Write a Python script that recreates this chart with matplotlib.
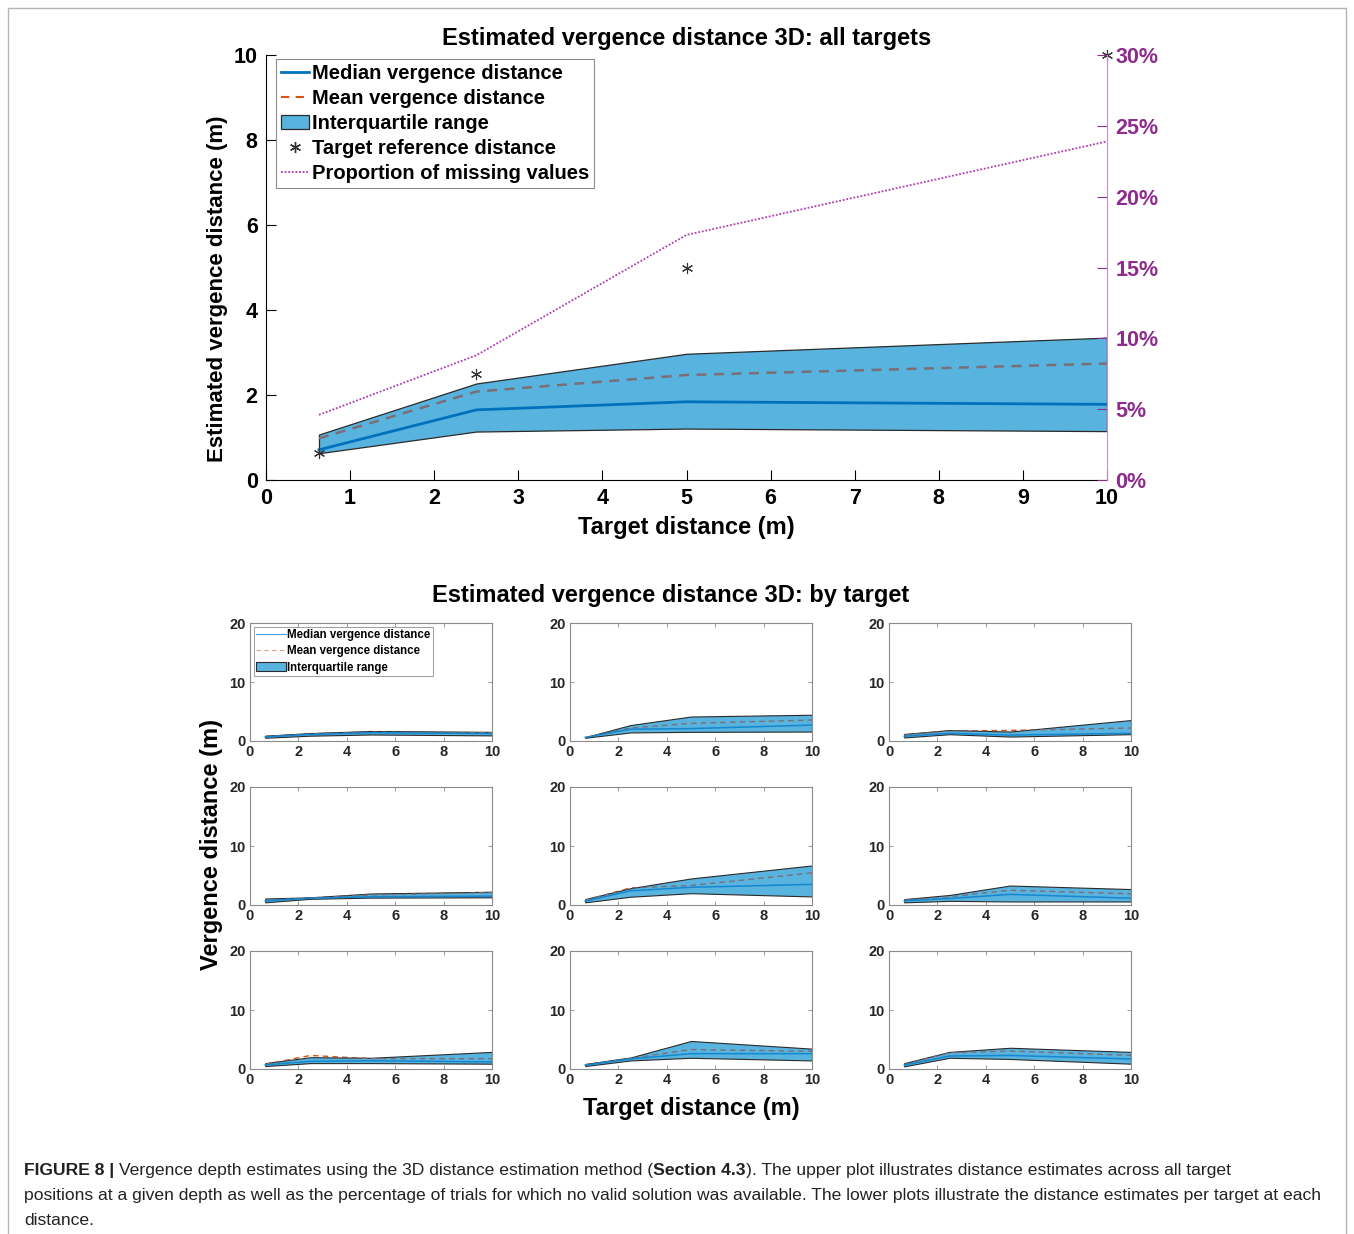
import numpy as np
import matplotlib
matplotlib.use("Agg")
import matplotlib.pyplot as plt
from matplotlib.lines import Line2D
from matplotlib.patches import Patch, Rectangle

plt.rcParams['font.family'] = ['Liberation Sans', 'DejaVu Sans']

W, H = 1354, 1234
FILL = "#58B3DF"
MED = "#0072BD"
MEAN = "#D95319"
MEAN_IN = "#7B6E76"
PURP = "#8E2C8E"
PURP_LINE = "#B03AB0"

# ---- data ----
target = [0.63, 2.5, 5, 10]

all_q1 = [0.63, 1.14, 1.21, 1.15]
all_q3 = [1.07, 2.27, 2.97, 3.35]
all_med = [0.71, 1.65, 1.84, 1.78]
all_mean = [0.98, 2.08, 2.47, 2.74]
all_missing = [4.6, 8.8, 17.3, 23.9]   # percent

# per target (3x3 grid, row by row)
sub_q1 = [
    [0.55, 0.90, 1.10, 0.95], [0.55, 1.45, 1.55, 1.60], [0.60, 1.15, 0.75, 1.15],
    [0.45, 1.05, 1.25, 1.30], [0.45, 1.40, 2.00, 1.45], [0.45, 0.70, 0.60, 0.60],
    [0.50, 1.00, 1.00, 0.90], [0.50, 1.45, 1.90, 1.45], [0.45, 1.90, 1.70, 0.90],
]
sub_q3 = [
    [0.90, 1.35, 1.70, 1.55], [0.65, 2.70, 4.15, 4.45], [1.20, 1.85, 1.60, 3.55],
    [1.10, 1.30, 1.95, 2.25], [1.00, 2.85, 4.50, 6.70], [1.00, 1.70, 3.30, 2.70],
    [1.00, 2.00, 1.90, 2.90], [0.85, 1.95, 4.75, 3.45], [1.00, 2.90, 3.60, 2.90],
]
sub_med = [
    [0.70, 1.10, 1.40, 1.25], [0.60, 2.00, 2.10, 2.70], [0.80, 1.30, 1.00, 1.30],
    [0.70, 1.15, 1.40, 1.50], [0.65, 2.40, 3.00, 3.50], [0.70, 1.10, 1.80, 1.15],
    [0.70, 1.30, 1.40, 1.20], [0.65, 1.70, 2.60, 2.60], [0.65, 2.20, 2.30, 1.70],
]
sub_mean = [
    [0.75, 1.20, 1.50, 1.40], [0.60, 2.20, 3.00, 3.55], [1.00, 1.70, 1.80, 2.20],
    [0.80, 1.20, 1.70, 2.10], [0.80, 2.90, 3.30, 5.45], [0.80, 1.40, 2.50, 1.90],
    [0.80, 2.30, 1.75, 1.75], [0.70, 1.80, 3.30, 3.00], [0.75, 2.75, 3.05, 2.30],
]


def draw_band(ax, q1, q3, med, mean, lw_med, lw_mean, edge_lw, med_color=MED):
    # mean drawn under the band (orange where it leaves the band), grey inside it
    ax.plot(target, mean, color=MEAN, ls=(0, (4, 3)), lw=lw_mean, zorder=1)
    poly = ax.fill_between(target, q1, q3, facecolor=FILL, edgecolor="#2b2b2b",
                           lw=edge_lw, zorder=2)
    inner, = ax.plot(target, mean, color=MEAN_IN, ls=(0, (4, 3)), lw=lw_mean, zorder=3)
    inner.set_clip_path(poly.get_paths()[0], ax.transData)
    ax.plot(target, med, color=med_color, lw=lw_med, zorder=4)


fig = plt.figure(figsize=(W / 100, H / 100), dpi=100)
fig.add_artist(Rectangle((8 / W, -0.02), (1346 - 8) / W, 1.02 - 8 / H,
                         transform=fig.transFigure, fill=False,
                         edgecolor="#b5b5b5", lw=1))

# ---- top plot ----
ax = fig.add_axes([266 / W, 1 - 480 / H, (1107 - 266) / W, (480 - 55) / H])
draw_band(ax, all_q1, all_q3, all_med, all_mean, 2.0, 1.8, 0.9)
ax.plot(target, target, ls="none", marker=(6, 2, 0), ms=8, mew=0.8,
        color="#333333", zorder=5, clip_on=False)
ax.set_xlim(0, 10)
ax.set_ylim(0, 10)
ax.set_xticks(range(0, 11))
ax.set_yticks(range(0, 11, 2))
ax.spines["top"].set_visible(False)
ax.spines["right"].set_visible(False)
ax.tick_params(direction="in", length=7, labelsize=15.5, pad=6, width=0.8)
for lab in ax.get_xticklabels() + ax.get_yticklabels():
    lab.set_fontweight("bold")
ax.set_xlabel("Target distance (m)", fontsize=17, fontweight="bold", labelpad=5)
ax.set_ylabel("Estimated vergence distance (m)", fontsize=16, fontweight="bold")
ax.yaxis.set_label_coords(-0.045, 0.45)
ax.set_title("Estimated vergence distance 3D: all targets", fontsize=17,
             fontweight="bold", pad=7)

ax2 = ax.twinx()
ax2.plot(target, all_missing, color=PURP_LINE, ls=(0, (1, 1)), lw=1.3)
ax2.set_ylim(0, 30)
ax2.set_yticks(range(0, 31, 5))
ax2.set_yticklabels([f"{v}%" for v in range(0, 31, 5)])
for s in ["top", "left", "bottom"]:
    ax2.spines[s].set_visible(False)
ax2.spines["right"].set_color("#C98BC9")
ax2.tick_params(direction="in", length=7, labelsize=15.5, colors=PURP, pad=6, width=0.8)
for lab in ax2.get_yticklabels():
    lab.set_fontweight("bold")

handles = [
    Line2D([], [], color=MED, lw=2),
    Line2D([], [], color=MEAN, lw=1.5, ls=(0, (4, 3))),
    Patch(facecolor=FILL, edgecolor="#2b2b2b", lw=0.9),
    Line2D([], [], ls="none", marker=(6, 2, 0), ms=8, color="#333333"),
    Line2D([], [], color=PURP_LINE, lw=1.3, ls=(0, (1, 1))),
]
labels = ["Median vergence distance", "Mean vergence distance", "Interquartile range",
          "Target reference distance", "Proportion of missing values"]
leg = ax2.legend(handles, labels, loc="upper left", bbox_to_anchor=(0.012, 0.99),
                 borderaxespad=0, fancybox=False, framealpha=1, edgecolor="#8c8c8c",
                 prop={"weight": "bold", "size": 14.5}, handlelength=1.4,
                 handletextpad=0.12, labelspacing=0.3, borderpad=0.25)
leg.get_frame().set_linewidth(0.8)

# ---- bottom grid ----
col_left = [250, 570, 889]
row_top = [623, 787, 951]
for i in range(9):
    r, c = divmod(i, 3)
    a = fig.add_axes([col_left[c] / W, 1 - (row_top[r] + 118) / H, 242 / W, 118 / H])
    draw_band(a, sub_q1[i], sub_q3[i], sub_med[i], sub_mean[i], 1.1, 1.0, 0.8,
              med_color="#1487d0")
    a.set_xlim(0, 10)
    a.set_ylim(0, 20)
    a.set_xticks(range(0, 11, 2))
    a.set_yticks([0, 10, 20])
    for s in a.spines.values():
        s.set_color("#8a8a8a")
        s.set_linewidth(0.8)
    a.tick_params(direction="in", length=3, labelsize=10.5, pad=3, width=0.6,
                  top=True, right=True, colors="#8a8a8a", labelcolor="#262626")
    for lab in a.get_xticklabels() + a.get_yticklabels():
        lab.set_fontweight("bold")
    if i == 0:
        sh = [Line2D([], [], color="#3aa0e0", lw=0.8),
              Line2D([], [], color="#f0a080", lw=0.8, ls=(0, (4, 3))),
              Patch(facecolor=FILL, edgecolor="#2b2b2b", lw=0.8)]
        sl = labels[:3]
        lg = a.legend(sh, sl, loc="upper left", bbox_to_anchor=(0.015, 0.965),
                      borderaxespad=0, fancybox=False, framealpha=1,
                      edgecolor="#8c8c8c", prop={"weight": "bold", "size": 8.3},
                      handlelength=2.6, handletextpad=0.1, labelspacing=0.35,
                      borderpad=0.2)
        lg.get_frame().set_linewidth(0.6)

fig.text(671 / W, 1 - 596 / H, "Estimated vergence distance 3D: by target",
         ha="center", va="center", fontsize=17, fontweight="bold")
fig.text(212 / W, 1 - 845 / H, "Vergence distance (m)", rotation=90,
         ha="center", va="center", fontsize=17, fontweight="bold")
fig.text(691 / W, 1 - 1109 / H, "Target distance (m)", ha="center", va="center",
         fontsize=17, fontweight="bold")

# ---- caption ----
cap = fig.add_axes([0, 0, 1, 1])
cap.axis("off")
cap.set_xlim(0, W)
cap.set_ylim(H, 0)
CAP_SZ = 12.6
CAP_C = "#222222"
lines = [
    [("FIGURE 8 | ", "bold"),
     ("Vergence depth estimates using the 3D distance estimation method (", "normal"),
     ("Section 4.3", "bold"),
     ("). The upper plot illustrates distance estimates across all target", "normal")],
    [("positions at a given depth as well as the percentage of trials for which no valid "
      "solution was available. The lower plots illustrate the distance estimates per target at each",
      "normal")],
    [("distance.", "normal")],
]
for k, parts in enumerate(lines):
    y = 1175 + 25 * k
    prev = None
    for txt, wt in parts:
        if prev is None:
            prev = cap.text(24, y, txt, fontsize=CAP_SZ, fontweight=wt, color=CAP_C,
                            ha="left", va="baseline")
        else:
            prev = cap.annotate(txt, xy=(1, 0), xycoords=prev, fontsize=CAP_SZ,
                                fontweight=wt, color=CAP_C, ha="left", va="bottom")

fig.savefig("out.png", dpi=100, facecolor="white")
